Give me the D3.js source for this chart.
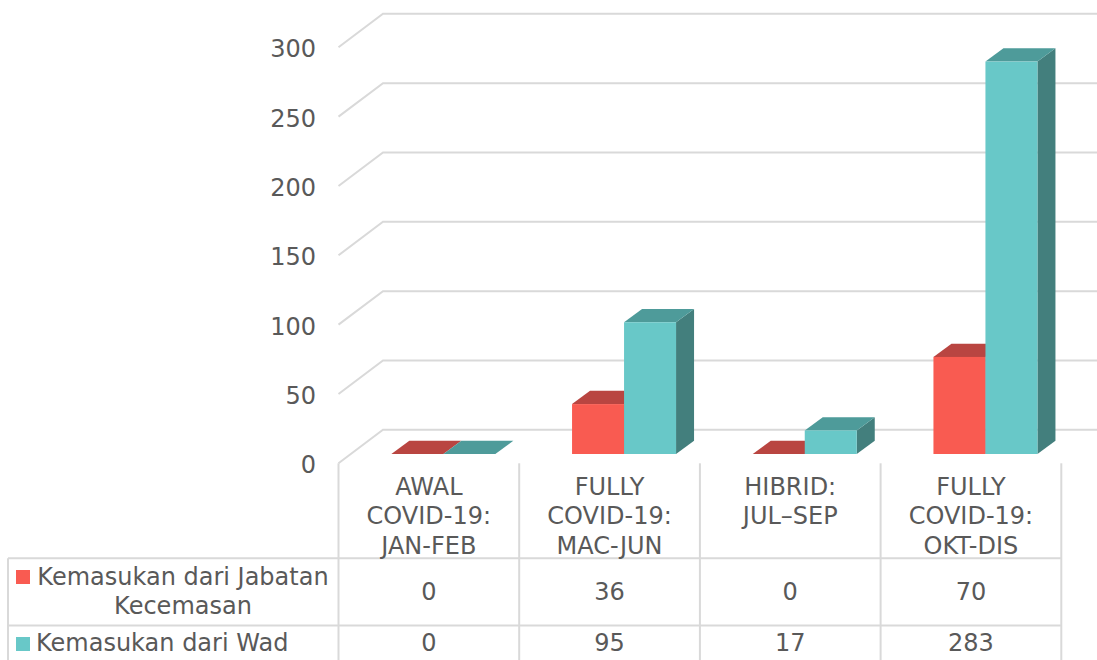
<!DOCTYPE html>
<html>
<head>
<meta charset="utf-8">
<script src="https://cdn.jsdelivr.net/npm/d3@7"></script>
<style>
  html, body { margin: 0; padding: 0; background: #fff; }
  svg { display: block; }
  text { font-family: "DejaVu Sans", Verdana, sans-serif; fill: #595959; }
</style>
</head>
<body>
<svg id="chart" width="1097" height="660"></svg>
<script>
// ---- data ----
const categories = [
  "AWAL\nCOVID-19:\nJAN-FEB",
  "FULLY\nCOVID-19:\nMAC-JUN",
  "HIBRID:\nJUL\u2013SEP",
  "FULLY\nCOVID-19:\nOKT-DIS"
];
const seriesNames = ["Kemasukan dari Jabatan Kecemasan", "Kemasukan dari Wad"];
const seriesJabatan = [0, 36, 0, 70];
const seriesWad = [0, 95, 17, 283];
const yTicks = [0, 50, 100, 150, 200, 250, 300];

// ---- styles ----
const colors = [
  { front: "#F95B51", top: "#B94541", side: "#A33B36" },
  { front: "#68C8C8", top: "#4E9B9A", side: "#437F7D" }
];
const gridColor = "#D9D9D9";

const svg = d3.select("#chart");
const W = 1097, H = 660;

// geometry
const plotLeft = 338.5, plotRight = 1061.3;
const depthX = 44.5, depthY = -33.5;          // wall depth offset
const barOffX = 14.5, barOffY = -9.3;          // bar front plane offset from front plane
const barDX = 18, barDY = -13.3;               // bar depth
const barW = 52;

const x = d3.scaleBand().domain(d3.range(categories.length)).range([plotLeft, plotRight]).padding(0);
const y = d3.scaleLinear().domain([0, 300]).range([463.3, 47.3]);

// ---- gridlines (back wall + left diagonal) ----
const grid = svg.append("g");
yTicks.forEach(t => {
  const yf = y(t);
  grid.append("path")
    .attr("d", `M${plotLeft},${yf} L${plotLeft + depthX},${yf + depthY} L${W + 5},${yf + depthY}`)
    .attr("fill", "none").attr("stroke", gridColor).attr("stroke-width", 2);
});

// y axis labels
const yAxisG = svg.append("g");
yTicks.forEach(t => {
  yAxisG.append("text")
    .attr("x", 316).attr("y", y(t) + 2)
    .attr("text-anchor", "end").attr("dominant-baseline", "central")
    .attr("font-size", 24).text(t);
});

// ---- bars ----
const series = [seriesJabatan, seriesWad];
const bars = svg.append("g");
categories.forEach((c, i) => {
  const cx = x(i) + x.bandwidth() / 2 + barOffX;
  series.forEach((vals, s) => {
    const v = vals[i];
    const x0 = cx - barW + s * barW, x1 = x0 + barW;
    const yb = y(0) + barOffY, yt = y(v) + barOffY;
    const col = colors[s];
    // side
    if (v > 0) {
      bars.append("path")
        .attr("d", `M${x1},${yb} L${x1 + barDX},${yb + barDY} L${x1 + barDX},${yt + barDY} L${x1},${yt} Z`)
        .attr("fill", col.side);
    }
    // top
    bars.append("path")
      .attr("d", `M${x0},${yt} L${x0 + barDX},${yt + barDY} L${x1 + barDX},${yt + barDY} L${x1},${yt} Z`)
      .attr("fill", col.top);
    // front
    if (v > 0) {
      bars.append("rect")
        .attr("x", x0).attr("y", yt).attr("width", barW).attr("height", yb - yt)
        .attr("fill", col.front);
    }
  });
});

// ---- data table ----
const table = svg.append("g");
const tableTop = 463.3, rowLine1 = 558.3, rowLine2 = 625.5, tableBottom = 700;
const legendLeft = 8;
const line = (x1, y1, x2, y2) => table.append("line")
  .attr("x1", x1).attr("y1", y1).attr("x2", x2).attr("y2", y2)
  .attr("stroke", gridColor).attr("stroke-width", 2);

// vertical lines
for (let i = 0; i <= categories.length; i++) {
  const xv = i < categories.length ? x(i) : plotRight;
  line(xv, tableTop, xv, tableBottom);
}
line(legendLeft, rowLine1, legendLeft, tableBottom);
line(legendLeft, rowLine1, plotRight, rowLine1);
line(legendLeft, rowLine2, plotRight, rowLine2);

// category labels
categories.forEach((c, i) => {
  const lines = c.split("\n");
  const t = table.append("text")
    .attr("text-anchor", "middle").attr("font-size", 24);
  lines.forEach((l, k) => {
    t.append("tspan")
      .attr("x", x(i) + x.bandwidth() / 2)
      .attr("y", 486.7 + k * 29.5)
      .attr("dominant-baseline", "central")
      .text(l);
  });
});

// values
const rowCenters = [591.7, 643];
series.forEach((vals, s) => {
  vals.forEach((v, i) => {
    table.append("text")
      .attr("x", x(i) + x.bandwidth() / 2).attr("y", rowCenters[s])
      .attr("text-anchor", "middle").attr("dominant-baseline", "central")
      .attr("font-size", 24).text(v);
  });
});

// legend keys + series names
// row 1 (wrapped)
table.append("rect").attr("x", 16).attr("y", 570).attr("width", 14).attr("height", 14).attr("fill", colors[0].front);
const words0 = seriesNames[0].split(" ");
const r1 = table.append("text").attr("text-anchor", "middle").attr("font-size", 24);
r1.append("tspan").attr("x", 183).attr("y", 576.7).attr("dominant-baseline", "central").text(words0.slice(0, 3).join(" "));
r1.append("tspan").attr("x", 183).attr("y", 605.5).attr("dominant-baseline", "central").text(words0.slice(3).join(" "));
// row 2
table.append("rect").attr("x", 16).attr("y", 637).attr("width", 14).attr("height", 14).attr("fill", colors[1].front);
table.append("text").attr("x", 36).attr("y", 643).attr("dominant-baseline", "central")
  .attr("font-size", 24).text(seriesNames[1]);
</script>
</body>
</html>
